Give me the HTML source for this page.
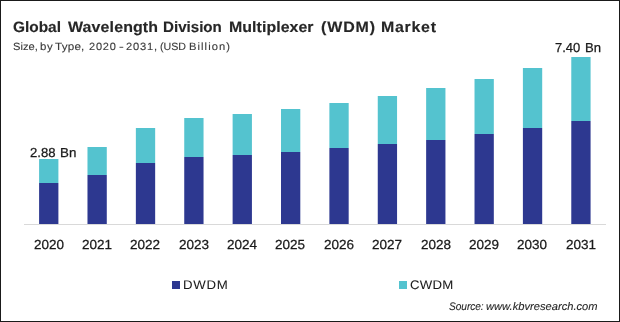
<!DOCTYPE html>
<html><head><meta charset="utf-8"><style>
html,body{margin:0;padding:0;}
body{width:620px;height:322px;position:relative;overflow:hidden;background:#fff;font-family:"Liberation Sans",sans-serif;}
#frame{position:absolute;left:0;top:0;width:618px;height:320px;border:1px solid #1a1a1a;}
svg{position:absolute;left:0;top:0;}
.sq{position:absolute;top:281px;width:8px;height:8px;}
span{position:absolute;line-height:1;white-space:nowrap;transform-origin:0 0;text-rendering:geometricPrecision;}
.title{-webkit-text-stroke:0.15px currentColor;}.sub{-webkit-text-stroke:0.12px currentColor;}.xl{-webkit-text-stroke:0.25px currentColor;}.dl{-webkit-text-stroke:0.25px currentColor;}.lg{-webkit-text-stroke:0.05px currentColor;}.src{-webkit-text-stroke:0.1px currentColor;}
</style></head><body>
<div id="wrap" style="position:absolute;left:0;top:0;width:620px;height:322px;will-change:transform">
<div id="frame"></div>
<svg width="620" height="322" viewBox="0 0 620 322">
<line x1="24" y1="224.5" x2="606" y2="224.5" stroke="#d9d9d9" stroke-width="1"/>
<rect x="39.10" y="159" width="19.3" height="24" fill="#54C3CF"/>
<rect x="39.10" y="183" width="19.3" height="41" fill="#2D3890"/>
<rect x="87.48" y="147" width="19.3" height="28" fill="#54C3CF"/>
<rect x="87.48" y="175" width="19.3" height="49" fill="#2D3890"/>
<rect x="135.86" y="128" width="19.3" height="35" fill="#54C3CF"/>
<rect x="135.86" y="163" width="19.3" height="61" fill="#2D3890"/>
<rect x="184.24" y="118" width="19.3" height="39" fill="#54C3CF"/>
<rect x="184.24" y="157" width="19.3" height="67" fill="#2D3890"/>
<rect x="232.62" y="114" width="19.3" height="41" fill="#54C3CF"/>
<rect x="232.62" y="155" width="19.3" height="69" fill="#2D3890"/>
<rect x="281.00" y="109" width="19.3" height="43" fill="#54C3CF"/>
<rect x="281.00" y="152" width="19.3" height="72" fill="#2D3890"/>
<rect x="329.38" y="103" width="19.3" height="45" fill="#54C3CF"/>
<rect x="329.38" y="148" width="19.3" height="76" fill="#2D3890"/>
<rect x="377.76" y="96" width="19.3" height="48" fill="#54C3CF"/>
<rect x="377.76" y="144" width="19.3" height="80" fill="#2D3890"/>
<rect x="426.14" y="88" width="19.3" height="52" fill="#54C3CF"/>
<rect x="426.14" y="140" width="19.3" height="84" fill="#2D3890"/>
<rect x="474.52" y="79" width="19.3" height="55" fill="#54C3CF"/>
<rect x="474.52" y="134" width="19.3" height="90" fill="#2D3890"/>
<rect x="522.90" y="68" width="19.3" height="60" fill="#54C3CF"/>
<rect x="522.90" y="128" width="19.3" height="96" fill="#2D3890"/>
<rect x="571.28" y="57" width="19.3" height="64" fill="#54C3CF"/>
<rect x="571.28" y="121" width="19.3" height="103" fill="#2D3890"/>
</svg>
<div class="sq" style="left:172px;background:#2D3890"></div>
<div class="sq" style="left:399px;background:#54C3CF"></div>
<span class="title" style="left:13.22px;top:19.60px;font-size:15.035px;font-weight:bold;font-style:normal;color:#262626;transform:scaleX(1.0271);">Global</span>
<span class="title" style="left:67.70px;top:19.60px;letter-spacing:0.117px;font-size:15.035px;font-weight:bold;font-style:normal;color:#262626;transform:scaleX(1.0624);">Wavelength</span>
<span class="title" style="left:163.00px;top:19.60px;font-size:15.035px;font-weight:bold;font-style:normal;color:#262626;transform:scaleX(1.0077);">Division</span>
<span class="title" style="left:228.50px;top:19.60px;letter-spacing:0.057px;font-size:15.035px;font-weight:bold;font-style:normal;color:#262626;transform:scaleX(1.0592);">Multiplexer</span>
<span class="title" style="left:321.17px;top:19.60px;letter-spacing:0.827px;font-size:15.035px;font-weight:bold;font-style:normal;color:#262626;transform:scaleX(1.0634);">(WDM)</span>
<span class="title" style="left:380.70px;top:19.60px;letter-spacing:0.670px;font-size:15.035px;font-weight:bold;font-style:normal;color:#262626;transform:scaleX(1.0617);">Market</span>
<span class="sub" style="left:12.60px;top:41.53px;letter-spacing:0.042px;font-size:10.505px;font-weight:normal;font-style:normal;color:#3a3a3a;transform:scaleX(1.0599);">Size,</span>
<span class="sub" style="left:40.26px;top:41.53px;letter-spacing:0.632px;font-size:10.505px;font-weight:normal;font-style:normal;color:#3a3a3a;transform:scaleX(1.0870);">by</span>
<span class="sub" style="left:54.50px;top:41.53px;letter-spacing:0.175px;font-size:10.505px;font-weight:normal;font-style:normal;color:#3a3a3a;transform:scaleX(1.1110);">Type,</span>
<span class="sub" style="left:89.36px;top:41.53px;letter-spacing:0.772px;font-size:10.505px;font-weight:normal;font-style:normal;color:#3a3a3a;transform:scaleX(1.0479);">2020</span>
<span class="sub" style="left:118.97px;top:41.53px;font-size:10.505px;font-weight:normal;font-style:normal;color:#3a3a3a;transform:scaleX(1.3514);">-</span>
<span class="sub" style="left:126.33px;top:41.53px;letter-spacing:0.786px;font-size:10.505px;font-weight:normal;font-style:normal;color:#3a3a3a;transform:scaleX(1.0591);">2031,</span>
<span class="sub" style="left:160.22px;top:41.53px;font-size:10.505px;font-weight:normal;font-style:normal;color:#3a3a3a;transform:scaleX(1.0156);">(USD</span>
<span class="sub" style="left:188.98px;top:41.53px;letter-spacing:0.990px;font-size:10.505px;font-weight:normal;font-style:normal;color:#3a3a3a;transform:scaleX(1.0649);">Billion)</span>
<span class="dl" style="left:30.02px;top:145.70px;font-size:13.000px;font-weight:normal;font-style:normal;color:#1a1a1a;transform:scaleX(1.0092);">2.88</span>
<span class="dl" style="left:59.80px;top:145.70px;font-size:13.000px;font-weight:normal;font-style:normal;color:#1a1a1a;transform:scaleX(1.0266);">Bn</span>
<span class="dl" style="left:555.33px;top:40.70px;font-size:13.000px;font-weight:normal;font-style:normal;color:#1a1a1a;transform:scaleX(0.9999);">7.40</span>
<span class="dl" style="left:584.90px;top:40.70px;font-size:13.000px;font-weight:normal;font-style:normal;color:#1a1a1a;transform:scaleX(1.0078);">Bn</span>
<span class="xl" style="left:33.56px;top:238.09px;font-size:13.195px;font-weight:normal;font-style:normal;color:#1a1a1a;transform:scaleX(1.0218);">2020</span>
<span class="xl" style="left:81.94px;top:238.09px;font-size:13.195px;font-weight:normal;font-style:normal;color:#1a1a1a;transform:scaleX(1.0252);">2021</span>
<span class="xl" style="left:130.32px;top:238.09px;font-size:13.195px;font-weight:normal;font-style:normal;color:#1a1a1a;transform:scaleX(1.0257);">2022</span>
<span class="xl" style="left:178.70px;top:238.09px;font-size:13.195px;font-weight:normal;font-style:normal;color:#1a1a1a;transform:scaleX(1.0252);">2023</span>
<span class="xl" style="left:227.08px;top:238.09px;font-size:13.195px;font-weight:normal;font-style:normal;color:#1a1a1a;transform:scaleX(1.0265);">2024</span>
<span class="xl" style="left:275.46px;top:238.09px;font-size:13.195px;font-weight:normal;font-style:normal;color:#1a1a1a;transform:scaleX(1.0253);">2025</span>
<span class="xl" style="left:323.84px;top:238.09px;font-size:13.195px;font-weight:normal;font-style:normal;color:#1a1a1a;transform:scaleX(1.0262);">2026</span>
<span class="xl" style="left:372.22px;top:238.09px;font-size:13.195px;font-weight:normal;font-style:normal;color:#1a1a1a;transform:scaleX(1.0257);">2027</span>
<span class="xl" style="left:420.60px;top:238.09px;font-size:13.195px;font-weight:normal;font-style:normal;color:#1a1a1a;transform:scaleX(1.0246);">2028</span>
<span class="xl" style="left:468.98px;top:238.09px;font-size:13.195px;font-weight:normal;font-style:normal;color:#1a1a1a;transform:scaleX(1.0262);">2029</span>
<span class="xl" style="left:517.36px;top:238.09px;font-size:13.195px;font-weight:normal;font-style:normal;color:#1a1a1a;transform:scaleX(1.0218);">2030</span>
<span class="xl" style="left:565.74px;top:238.09px;font-size:13.195px;font-weight:normal;font-style:normal;color:#1a1a1a;transform:scaleX(1.0252);">2031</span>
<span class="lg" style="left:183.00px;top:278.59px;letter-spacing:0.651px;font-size:12.500px;font-weight:normal;font-style:normal;color:#1a1a1a;transform:scaleX(1.0579);">DWDM</span>
<span class="lg" style="left:409.87px;top:278.59px;letter-spacing:0.203px;font-size:12.500px;font-weight:normal;font-style:normal;color:#1a1a1a;transform:scaleX(1.0567);">CWDM</span>
<span class="src" style="left:449.20px;top:302.00px;letter-spacing:-0.065px;font-size:11.000px;font-weight:normal;font-style:italic;color:#262626;transform:scaleX(0.9245);">Source:</span>
<span class="src" style="left:485.84px;top:302.00px;font-size:11.000px;font-weight:normal;font-style:italic;color:#262626;transform:scaleX(1.0141);">www.kbvresearch.com</span>
</div>
</body></html>
